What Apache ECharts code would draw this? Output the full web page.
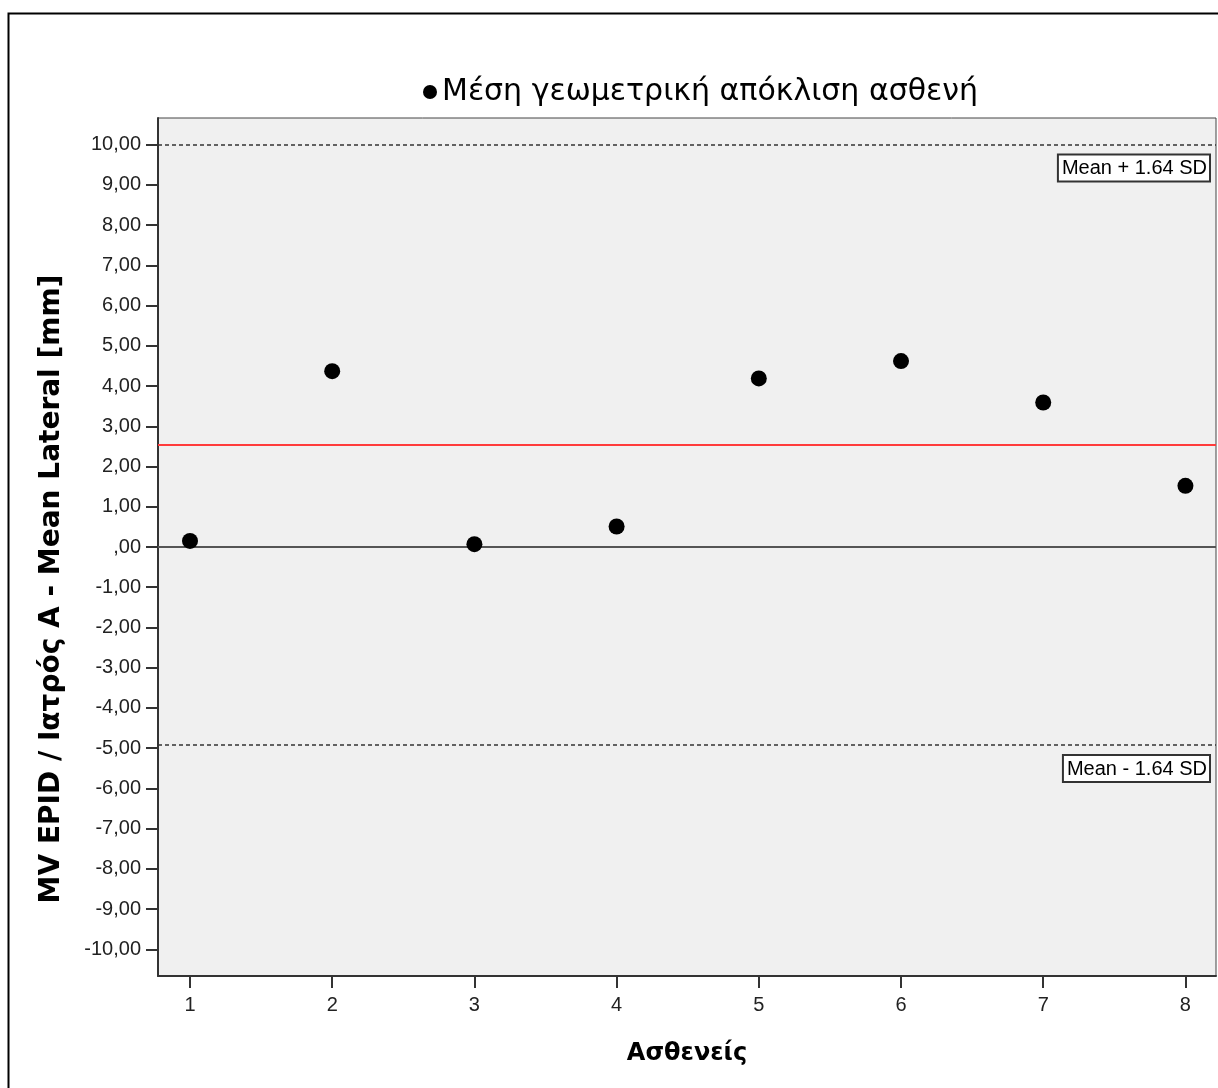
<!DOCTYPE html>
<html>
<head>
<meta charset="utf-8">
<script src="https://cdn.jsdelivr.net/npm/echarts@6/dist/echarts.min.js"></script>
<style>
  html, body { margin: 0; padding: 0; background: #ffffff; }
  #chart { width: 1218px; height: 1088px; }
</style>
</head>
<body>
<div id="chart"></div>
<script>
// Patients on the x axis and the mean geometric deviation per patient (mm)
const patients = [1, 2, 3, 4, 5, 6, 7, 8];
const deviations = [0.15, 4.37, 0.07, 0.51, 4.19, 4.62, 3.59, 1.52];

// Reference lines: zero, mean difference and the ±1.64 SD limits
const meanDiff = 2.55;
const upperLimit = 10.0;
const lowerLimit = -4.92;

// Tick values shown on each axis
const yTicks = [-10, -9, -8, -7, -6, -5, -4, -3, -2, -1, 0, 1, 2, 3, 4, 5, 6, 7, 8, 9, 10];
const xTicks = [1, 2, 3, 4, 5, 6, 7, 8];

const legendName = 'Μέση γεωμετρική απόκλιση ασθενή';
const FONT = 'Liberation Sans, Arial, sans-serif';
const TITLE_FONT = 'DejaVu Sans, Liberation Sans, sans-serif';

function fmtY(v) {
  let s = Math.abs(v).toFixed(2).replace('.', ',');
  if (s.startsWith('0,')) s = s.slice(1);
  return (v < 0 ? '-' : '') + s;
}

const chart = echarts.init(document.getElementById('chart'), null, { renderer: 'canvas' });

const limitLabel = {
  show: true,
  position: 'insideEndBottom',
  distance: [7, 11],
  fontFamily: FONT,
  fontSize: 20,
  color: '#000',
  backgroundColor: '#ffffff',
  borderColor: '#333',
  borderWidth: 2,
  padding: [3, 2, 2, 3]
};

chart.setOption({
  animation: false,
  backgroundColor: '#ffffff',
  graphic: [{
    type: 'rect',
    left: 6, top: 11,
    shape: { width: 1230, height: 1100 },
    style: { fill: 'none', stroke: '#000', lineWidth: 2 },
    silent: true,
    z: -10
  }],
  legend: {
    data: [legendName],
    top: 72,
    left: 418,
    icon: 'circle',
    itemWidth: 14,
    itemHeight: 14,
    itemGap: 4,
    textStyle: { fontFamily: TITLE_FONT, fontSize: 30, color: '#000' }
  },
  grid: {
    left: 158, right: 2, top: 118, bottom: 112,
    show: true,
    backgroundColor: '#f0f0f0',
    borderColor: '#444',
    borderWidth: 1
  },
  xAxis: {
    type: 'value',
    min: 0.775,
    max: 8.215,
    name: 'Ασθενείς',
    nameLocation: 'middle',
    nameGap: 66,
    nameTextStyle: { fontFamily: TITLE_FONT, fontSize: 24, fontWeight: 'bold', color: '#000' },
    axisLine: { show: true, onZero: false, lineStyle: { color: '#333', width: 2 } },
    axisTick: { show: true, length: 12, customValues: xTicks, lineStyle: { color: '#333', width: 2 } },
    axisLabel: { customValues: xTicks, margin: 19, fontFamily: FONT, fontSize: 20, color: '#222' },
    splitLine: { show: false }
  },
  yAxis: {
    type: 'value',
    min: -10.66,
    max: 10.66,
    name: 'MV EPID / Ιατρός Α - Mean Lateral [mm]',
    nameLocation: 'middle',
    nameGap: 92,
    nameTextStyle: {
      fontFamily: TITLE_FONT, fontSize: 28, fontWeight: 'bold', color: '#000',
      padding: [0, 84, 0, 0]
    },
    axisLine: { show: true, onZero: false, lineStyle: { color: '#333', width: 2 } },
    axisTick: { show: true, length: 12, customValues: yTicks, lineStyle: { color: '#333', width: 2 } },
    axisLabel: { customValues: yTicks, margin: 17, fontFamily: FONT, fontSize: 20, color: '#222', formatter: fmtY },
    splitLine: { show: false }
  },
  series: [
    {
      // reference lines, drawn beneath the points
      name: 'lines',
      type: 'scatter',
      data: [],
      z: 1,
      silent: true,
      markLine: {
        silent: true,
        symbol: 'none',
        animation: false,
        data: [
          { yAxis: 0, lineStyle: { color: '#555', width: 2, type: 'solid' }, label: { show: false } },
          { yAxis: meanDiff, lineStyle: { color: '#ff3b3b', width: 2, type: 'solid' }, label: { show: false } },
          { yAxis: upperLimit, lineStyle: { color: '#333', width: 1.5, type: [4, 3] },
            label: Object.assign({ formatter: 'Mean + 1.64 SD' }, limitLabel) },
          { yAxis: lowerLimit, lineStyle: { color: '#333', width: 1.5, type: [4, 3] },
            label: Object.assign({ formatter: 'Mean - 1.64 SD' }, limitLabel) }
        ]
      }
    },
    {
      name: legendName,
      type: 'scatter',
      z: 5,
      symbol: 'circle',
      symbolSize: 16,
      itemStyle: { color: '#000', opacity: 1 },
      data: patients.map((p, i) => [p, deviations[i]])
    }
  ]
});
</script>
</body>
</html>
